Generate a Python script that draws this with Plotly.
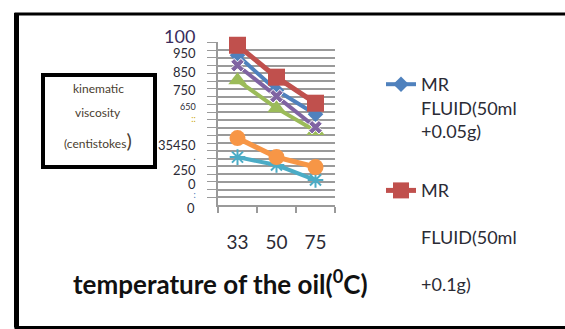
import plotly.graph_objects as go

# ---- data ----
temps = ["33", "50", "75"]
blue_vals = [966, 741, 586]      # MR FLUID(50ml +0.05g)
red_vals = [1031, 825, 657]      # MR FLUID(50ml +0.1g)
green_vals = [805, 625, 477]
purple_vals = [902, 702, 502]
teal_vals = [309, 258, 161]
orange_vals = [432, 309, 245]

ytick_vals = [979, 857, 741, 644, 567, 387, 322, 225, 135, 77]
ytick_text = ["950", "850", "750",
              "<span style='font-size:9px'>650</span>",
              "<span style='font-size:9px;color:#c9a400'>::</span>",
              "35450",
              "<span style='font-size:9px'>.</span>",
              "250", "0",
              "<span style='font-size:9px;color:#3b6fb5'>:</span>"]
grid_vals = list(range(50, 1051, 50))

# ---- geometry helpers (pixel -> paper) ----
W, H = 565, 329
L, R, T, B = 218, 335, 42, 205


def px(x):
    return (x - L) / (R - L)


def py(y):
    return (B - y) / (B - T)


fig = go.Figure()

specs = [
    ("MR<br>FLUID(50ml<br>+0.05g)", blue_vals, "#4F81BD", 4, "diamond", 12, True),
    ("MR<br><br>FLUID(50ml<br><br>+0.1g)", red_vals, "#C0504D", 5, "square", 17, True),
    ("Series 3", green_vals, "#9BBB59", 4, "triangle-up", 16, False),
    ("Series 4", purple_vals, "#8064A2", 4, "x", 12, False),
    ("Series 5", teal_vals, "#4BACC6", 4, "asterisk-open", 13, False),
    ("Series 6", orange_vals, "#F79646", 5, "circle", 16, False),
]
for i, (name, vals, col, lw, sym, ms, show) in enumerate(specs):
    mk = dict(symbol=sym, size=ms, color=col)
    if sym == "asterisk-open":
        mk["line"] = dict(color=col, width=2)
    if sym == "x":
        mk["line"] = dict(color="#ffffff", width=1)
    fig.add_trace(go.Scatter(
        x=temps, y=vals, name=name, mode="lines+markers",
        line=dict(color=col, width=lw), marker=mk,
        showlegend=show, legendgroup="g%d" % i, cliponaxis=False))

gridc = "#9a9a9a"
fig.update_layout(
    width=W, height=H, autosize=False,
    margin=dict(l=L, r=W - R, t=T, b=H - B, pad=0),
    paper_bgcolor="white", plot_bgcolor="white",
    font=dict(family="Lato", color="#2b2b35"),
    xaxis=dict(type="category", categoryorder="array", categoryarray=temps,
               range=[-0.5, 2.5], tickson="boundaries", ticks="outside",
               ticklen=6, tickcolor=gridc, tickwidth=1.5,
               showline=True, linecolor=gridc, linewidth=1.5,
               showgrid=False, zeroline=False,
               tickfont=dict(size=19, color="#2b2b35"),
               ticklabelstandoff=19),
    yaxis=dict(range=[0, 1052], tickmode="array", tickvals=ytick_vals,
               ticktext=ytick_text, ticks="", showgrid=False, zeroline=False,
               showline=True, linecolor=gridc, linewidth=1.5,
               tickfont=dict(size=13, color="#2b2b35"),
               ticklabelstandoff=18,
               minor=dict(tickmode="array", tickvals=grid_vals, showgrid=True,
                          gridcolor=gridc, gridwidth=1.5, ticks="outside",
                          ticklen=9, tickcolor=gridc, tickwidth=1.2)),
    legend=dict(x=px(381), y=py(66), xanchor="left", yanchor="top",
                valign="top", traceorder="grouped", tracegroupgap=33,
                maxheight=600,
                font=dict(family="Lato", size=18, color="#2b2b35"),
                bgcolor="rgba(0,0,0,0)", borderwidth=0),
)

# y labels lying just outside the value range
fig.add_annotation(x=px(197), y=py(36), xref="paper", yref="paper", text="100",
                   showarrow=False, xanchor="right", yanchor="middle",
                   font=dict(size=18, color="#3a2d5c"))
fig.add_annotation(x=px(197), y=py(208), xref="paper", yref="paper", text="0",
                   showarrow=False, xanchor="right", yanchor="middle",
                   font=dict(size=13, color="#2b2b35"))

# x axis title
fig.add_annotation(x=px(220), y=py(282), xref="paper", yref="paper",
                   text="<b>temperature of the oil(<sup>0</sup>C)</b>",
                   showarrow=False, xanchor="center", yanchor="middle",
                   font=dict(size=26, color="#111111"))

# y axis title box
fig.add_shape(type="rect", xref="paper", yref="paper",
              x0=px(43), x1=px(155), y0=py(167), y1=py(75),
              line=dict(color="black", width=4), fillcolor="white", layer="below")
for txt, yy in [("kinematic", 88), ("viscosity", 112),
                ("(centistokes<span style='font-size:20px'>)</span>", 140)]:
    fig.add_annotation(x=px(98), y=py(yy), xref="paper", yref="paper",
                       text=txt, showarrow=False, xanchor="center",
                       yanchor="middle", font=dict(size=12, color="#4a4030"))

# outer frame
fig.add_shape(type="rect", xref="paper", yref="paper",
              x0=px(16), x1=px(620), y0=py(327.5), y1=py(14),
              line=dict(color="black", width=3), layer="below")
fig.add_shape(type="line", xref="paper", yref="paper",
              x0=px(16.5), x1=px(16.5), y0=py(327.5), y1=py(13),
              line=dict(color="black", width=5))

fig.write_html("out.html")
